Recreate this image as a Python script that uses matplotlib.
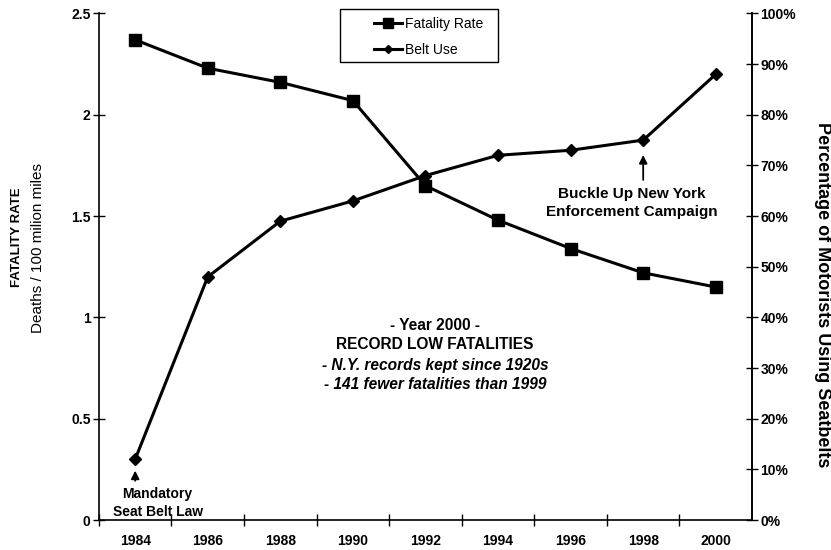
import matplotlib

matplotlib.use("Agg")

import matplotlib.pyplot as plt
import numpy as np
from matplotlib.patches import Rectangle

# data
years = ["1984", "1986", "1988", "1990", "1992", "1994", "1996", "1998", "2000"]
fatality_rate = [2.37, 2.23, 2.16, 2.07, 1.65, 1.48, 1.34, 1.22, 1.15]
belt_use = [12, 48, 59, 63, 68, 72, 73, 75, 88]  # percent

FONT = "Liberation Sans"
TICK_SIZE = 10
W, H = 831, 550

plt.rcParams.update({
    "font.family": FONT,
    "font.size": TICK_SIZE,
})


def px(x, y):
    # pixel position (from top-left) -> figure fraction
    return x / W, 1 - y / H


fig = plt.figure(figsize=(W / 100, H / 100), dpi=100)
ax = fig.add_axes([0.119, 0.0545, 0.786, 0.921])
ax2 = ax.twinx()

x = np.arange(len(years))

ax.plot(x, fatality_rate, color="black", lw=2.2, marker="s", ms=9,
        label="Fatality Rate", zorder=3)
ax2.plot(x, belt_use, color="black", lw=2.2, marker="D", ms=6,
         label="Belt Use", zorder=3)

# left axis
ax.set_xlim(-0.5, len(years) - 0.5)
ax.set_ylim(0, 2.5)
ax.set_yticks([0, 0.5, 1, 1.5, 2, 2.5])
ax.set_yticklabels(["0", "0.5", "1", "1.5", "2", "2.5"], fontweight="bold")
ax.set_xticks(x)
ax.set_xticklabels(years, fontweight="bold")
ax.set_xticks(np.arange(len(years)) - 0.5, minor=True)
ax.tick_params(axis="x", which="major", length=0, pad=10)
ax.tick_params(axis="x", which="minor", direction="inout", length=8, width=1)
ax.tick_params(axis="y", direction="inout", length=8, width=1, pad=2)

# right axis
ax2.set_ylim(0, 100)
ax2.set_yticks(range(0, 101, 10))
ax2.set_yticklabels([f"{v}%" for v in range(0, 101, 10)], fontweight="bold")
ax2.tick_params(axis="y", direction="inout", length=8, width=1, pad=2)

for a in (ax, ax2):
    a.spines["top"].set_visible(False)
    a.spines["left"].set_linewidth(1.2)
    a.spines["right"].set_linewidth(1.2)
    a.spines["bottom"].set_linewidth(1.2)
ax2.spines["left"].set_visible(False)
ax2.spines["bottom"].set_visible(False)

# axis titles
fig.text(*px(17, 237), "FATALITY RATE", rotation=90, ha="center", va="center",
         fontsize=9.5, fontweight="bold")
fig.text(*px(38, 248), "Deaths / 100 milion miles", rotation=90, ha="center",
         va="center", fontsize=11)
fig.text(*px(822, 295), "Percentage of Motorists Using Seatbelts", rotation=-90,
         ha="center", va="center", fontsize=13, fontweight="bold")

# legend: box drawn by hand, entries without frame
x0, y0 = px(340, 62)
x1, y1 = px(498, 9)
fig.patches.append(Rectangle((x0, y0), x1 - x0, y1 - y0, transform=fig.transFigure,
                             facecolor="white", edgecolor="black", lw=1.0,
                             zorder=5))
h1, l1 = ax.get_legend_handles_labels()
h2, l2 = ax2.get_legend_handles_labels()
leg = fig.legend(h1 + h2, l1 + l2, loc="upper left", bbox_to_anchor=px(374, 17),
                 frameon=False, handlelength=2.0, handletextpad=0.25,
                 labelspacing=0.85, borderpad=0, borderaxespad=0,
                 fontsize=10, markerscale=0.75)
leg.set_zorder(6)

# annotations
ax2.annotate("", xy=(0, 10.3), xytext=(0, 7.2),
             arrowprops=dict(arrowstyle="-|>", color="black", lw=1.3,
                             mutation_scale=12))
ax2.text(0.31, 6.6, "Mandatory\nSeat Belt Law", ha="center", va="top",
         fontsize=10, fontweight="bold", linespacing=1.4)

ax2.annotate("", xy=(7, 72.6), xytext=(7, 66.6),
             arrowprops=dict(arrowstyle="-|>", color="black", lw=1.3,
                             mutation_scale=12))
ax2.text(6.84, 65.8, "Buckle Up New York\nEnforcement Campaign", ha="center",
         va="top", fontsize=11, fontweight="bold", linespacing=1.4)

cx = 4.13
ax.text(cx, 0.913, "- Year 2000 -\nRECORD LOW FATALITIES", ha="center",
        va="center", fontsize=11.2, fontweight="bold", linespacing=1.3)
ax.text(cx, 0.716, "- N.Y. records kept since 1920s\n- 141 fewer fatalities than 1999",
        ha="center", va="center", fontsize=11.2, fontweight="bold",
        style="italic", linespacing=1.3)

fig.savefig("out.png", dpi=100)
